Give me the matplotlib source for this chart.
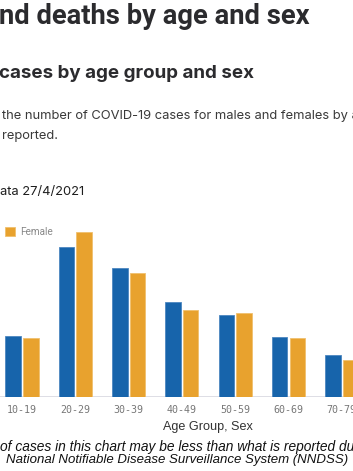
import numpy as np
import matplotlib.pyplot as plt

# cases by age group and sex (visible groups only)
age_groups = ['10-19', '20-29', '30-39', '40-49', '50-59', '60-69', '70-79']
male = [1290, 3140, 2700, 1995, 1715, 1255, 880]
female = [1235, 3460, 2600, 1835, 1765, 1245, 770]

W, H = 353, 471
fig = plt.figure(figsize=(W / 100, H / 100), dpi=100)

def px(x, y):
    return x / W, 1 - y / H

# axes placed in pixel terms: baseline at y=397, group spacing ~53.3px
ax_top, ax_bot = 215, 397
ax = fig.add_axes([0, 1 - ax_bot / H, 1, (ax_bot - ax_top) / H])
step = 53.3
x0 = 22
ax.set_xlim(-x0 / step, (W - x0) / step)
ax.set_ylim(0, (ax_bot - ax_top) * 21)

x = np.arange(len(age_groups))
w = 0.29
ax.bar(x - 0.165, male, w, color='#1764ab', edgecolor='#4d86c0', linewidth=0.6)
fb = ax.bar(x + 0.165, female, w, color='#e8a22e', edgecolor='#f0c06e', linewidth=0.6)
ax.axhline(0, color='#d8d8e0', lw=1.2, zorder=0)

ax.set_xticks(x)
ax.set_xticklabels(age_groups, family='DejaVu Sans Mono', fontsize=7.2, color='#777777')
ax.tick_params(axis='x', length=0, pad=6)
ax.set_yticks([])
for s in ax.spines.values():
    s.set_visible(False)
ax.patch.set_alpha(0)

fig.legend([fb], ['Female'], loc='center left', bbox_to_anchor=px(5, 232),
           frameon=False, handlelength=0.95, handleheight=0.95, handletextpad=0.6,
           borderpad=0, borderaxespad=0, prop={'family': 'Roboto', 'size': 7.2},
           labelcolor='#888888')

dark = '#2b2b2e'
fig.text(*px(-1, 16), 'nd deaths by age and sex', family='Roboto', weight='bold',
         fontsize=19.7, color=dark, va='center')
fig.text(*px(-1, 73), 'cases by age group and sex', family='Inter', weight='bold',
         fontsize=13.5, color=dark, va='center')
fig.text(*px(2, 116), 'the number of COVID-19 cases for males and females by a',
         family='Inter', fontsize=9.3, color='#3a3a3a', va='center')
fig.text(*px(2, 136), 'reported.', family='Inter', fontsize=9.3,
         color='#3a3a3a', va='center')
fig.text(*px(0, 192), 'ata 27/4/2021', family='Inter', fontsize=9.3,
         color='#1e1e1e', va='center')

fig.text(*px(208, 427), 'Age Group, Sex', family='Liberation Sans',
         fontsize=9.1, color='#333333', ha='center', va='center')
fig.text(*px(0, 447), 'of cases in this chart may be less than what is reported du',
         family='Liberation Sans', style='italic', fontsize=9.95, color='#111111',
         va='center')
fig.text(*px(177, 460), 'National Notifiable Disease Surveillance System (NNDSS)',
         family='Liberation Sans', style='italic', fontsize=9.5, color='#111111',
         ha='center', va='center')

fig.savefig('out.png', dpi=100)
